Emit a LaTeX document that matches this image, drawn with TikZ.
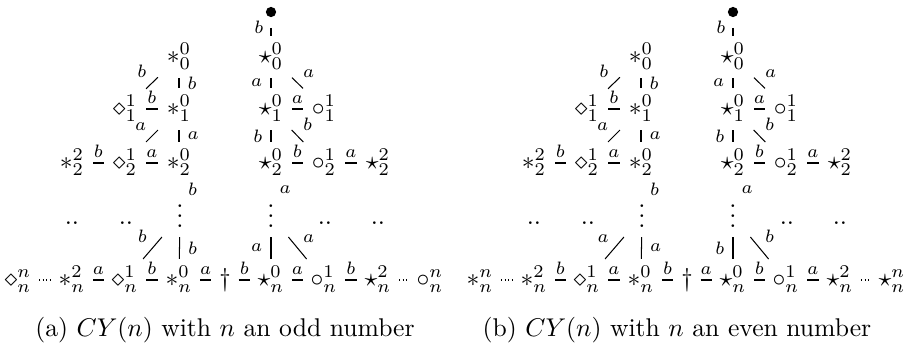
\documentclass[tikz,border=0pt]{standalone}
\usepackage{amsmath}
\usepackage{amssymb}
\usepackage{tikz}

\begin{document}
\begin{tikzpicture}[x=0.39pt,y=-0.39pt,
  vtx/.style={inner sep=0pt,minimum width=16pt,minimum height=16pt,text height=7.5pt,text depth=2.5pt},
  vdt/.style={vtx,text height=9pt,text depth=0pt},
  dg/.style={vtx,minimum width=10.2pt},
  lbl/.style={font=\scriptsize,inner sep=2pt},
  dt/.style={densely dotted}]

\useasboundingbox (0,0) rectangle (909,346);

%First figure (n odd)
\begin{scope}[name prefix=a-]
\node[vtx] (ast00) at (179,57) {$*_0^0$}; \node[vtx] (dia11) at (125,109) {$\diamond_1^1$}; \node[vtx] (ast10) at (179,109) {$*_1^0$};
\node[vtx] (ast22) at (72,163) {$*_2^2$}; \node[vtx] (dia21) at (125,163) {$\diamond_2^1$}; \node[vtx] (ast20) at (179,163) {$*_2^0$};

\node[circle,fill,inner sep=0pt,minimum size=4pt] (top) at (271,12) {};
\node[vtx] (str00) at (271,57) {$\star_0^0$}; \node[vtx] (str10) at (271,109) {$\star_1^0$}; \node[vtx] (cir11) at (324,109) {$\circ_1^1$};
\node[vtx] (str20) at (271,163) {$\star_2^0$}; \node[vtx] (cir21) at (324,163) {$\circ_2^1$}; \node[vtx] (str22) at (378,163) {$\star_2^2$};

\node[vdt] (vdl) at (180,216) {$\vdots$}; \node[vdt] (vdr) at (271,216) {$\vdots$};
\node[anchor=base] (hd1) at (72,224) {$..$}; \node[anchor=base] (hd2) at (126,224) {$..$};
\node[anchor=base] (hd3) at (325,224) {$..$}; \node[anchor=base] (hd4) at (378,224) {$..$};

\node[vtx] (n0) at (18,280) {$\diamond_n^n$}; \node[vtx] (n1) at (72,280) {$*_n^2$}; \node[vtx] (n2) at (125,280) {$\diamond_n^1$};
\node[vtx] (n3) at (179,280) {$*_n^0$}; \node[dg] (dag) at (225,280) {$\dagger$}; \node[vtx] (n5) at (271,280) {$\star_n^0$};
\node[vtx] (n6) at (324,280) {$\circ_n^1$}; \node[vtx] (n7) at (378,280) {$\star_n^2$}; \node[vtx] (n8) at (430,280) {$\circ_n^n$};

\draw (ast00) -- node[lbl,above left]{$b$} (dia11); \draw (ast00) -- node[lbl,right=1.2pt]{$b$} (ast10); \draw (dia11) -- node[lbl,above]{$b$} (ast10);
\draw (ast10) -- node[lbl,above left]{$a$} (dia21); \draw (ast10) -- node[lbl,right=1.2pt]{$a$} (ast20);
\draw (ast22) -- node[lbl,above]{$b$} (dia21); \draw (dia21) -- node[lbl,above]{$a$} (ast20);

\draw[shorten <=4pt] (top) -- node[lbl,left=0.8pt]{$b$} (str00);
\draw (str00) -- node[lbl,left=1.2pt]{$a$} (str10); \draw (str00) -- node[lbl,above right]{$a$} (cir11); \draw (str10) -- node[lbl,above]{$a$} (cir11);
\draw (str10) -- node[lbl,left=1.2pt]{$b$} (str20); \draw (str10) -- node[lbl,above right]{$b$} (cir21);
\draw (str20) -- node[lbl,above]{$b$} (cir21); \draw (cir21) -- node[lbl,above]{$a$} (str22);

\path (ast20) -- node[lbl,right=1.2pt]{$b$} (vdl); \path (str20) -- node[lbl,right=1.2pt]{$a$} (vdr);
\draw (vdl) -- node[lbl,above left]{$b$} (n2); \draw (vdl) -- node[lbl,right=1.2pt]{$b$} (n3);
\draw (vdr) -- node[lbl,left=1.2pt]{$a$} (n5); \draw (vdr) -- node[lbl,above right]{$a$} (n6);

\draw[dt] (n0) -- (n1); \draw (n1) -- node[lbl,above]{$a$} (n2); \draw (n2) -- node[lbl,above]{$b$} (n3); \draw (n3) -- node[lbl,above]{$a$} (dag);
\draw (dag) -- node[lbl,above]{$b$} (n5); \draw (n5) -- node[lbl,above]{$a$} (n6); \draw (n6) -- node[lbl,above]{$b$} (n7); \draw[dt] (n7) -- (n8);

\node (cap) at (225,330) {(a) $CY(n)$ with $n$ an odd number};
\end{scope}

%Second figure (n even)
\begin{scope}[shift={(462,0)},name prefix=b-]
\node[vtx] (ast00) at (179,57) {$*_0^0$}; \node[vtx] (dia11) at (125,109) {$\diamond_1^1$}; \node[vtx] (ast10) at (179,109) {$*_1^0$};
\node[vtx] (ast22) at (72,163) {$*_2^2$}; \node[vtx] (dia21) at (125,163) {$\diamond_2^1$}; \node[vtx] (ast20) at (179,163) {$*_2^0$};

\node[circle,fill,inner sep=0pt,minimum size=4pt] (top) at (271,12) {};
\node[vtx] (str00) at (271,57) {$\star_0^0$}; \node[vtx] (str10) at (271,109) {$\star_1^0$}; \node[vtx] (cir11) at (324,109) {$\circ_1^1$};
\node[vtx] (str20) at (271,163) {$\star_2^0$}; \node[vtx] (cir21) at (324,163) {$\circ_2^1$}; \node[vtx] (str22) at (378,163) {$\star_2^2$};

\node[vdt] (vdl) at (180,216) {$\vdots$}; \node[vdt] (vdr) at (271,216) {$\vdots$};
\node[anchor=base] (hd1) at (72,224) {$..$}; \node[anchor=base] (hd2) at (126,224) {$..$};
\node[anchor=base] (hd3) at (325,224) {$..$}; \node[anchor=base] (hd4) at (378,224) {$..$};

\node[vtx] (n0) at (18,280) {$*_n^n$}; \node[vtx] (n1) at (72,280) {$*_n^2$}; \node[vtx] (n2) at (125,280) {$\diamond_n^1$};
\node[vtx] (n3) at (179,280) {$*_n^0$}; \node[dg] (dag) at (225,280) {$\dagger$}; \node[vtx] (n5) at (271,280) {$\star_n^0$};
\node[vtx] (n6) at (324,280) {$\circ_n^1$}; \node[vtx] (n7) at (378,280) {$\star_n^2$}; \node[vtx] (n8) at (430,280) {$\star_n^n$};

\draw (ast00) -- node[lbl,above left]{$b$} (dia11); \draw (ast00) -- node[lbl,right=1.2pt]{$b$} (ast10); \draw (dia11) -- node[lbl,above]{$b$} (ast10);
\draw (ast10) -- node[lbl,above left]{$a$} (dia21); \draw (ast10) -- node[lbl,right=1.2pt]{$a$} (ast20);
\draw (ast22) -- node[lbl,above]{$b$} (dia21); \draw (dia21) -- node[lbl,above]{$a$} (ast20);

\draw[shorten <=4pt] (top) -- node[lbl,left=0.8pt]{$b$} (str00);
\draw (str00) -- node[lbl,left=1.2pt]{$a$} (str10); \draw (str00) -- node[lbl,above right]{$a$} (cir11); \draw (str10) -- node[lbl,above]{$a$} (cir11);
\draw (str10) -- node[lbl,left=1.2pt]{$b$} (str20); \draw (str10) -- node[lbl,above right]{$b$} (cir21);
\draw (str20) -- node[lbl,above]{$b$} (cir21); \draw (cir21) -- node[lbl,above]{$a$} (str22);

\path (ast20) -- node[lbl,right=1.2pt]{$b$} (vdl); \path (str20) -- node[lbl,right=1.2pt]{$a$} (vdr);
\draw (vdl) -- node[lbl,above left]{$a$} (n2); \draw (vdl) -- node[lbl,right=1.2pt]{$a$} (n3);
\draw (vdr) -- node[lbl,left=1.2pt]{$b$} (n5); \draw (vdr) -- node[lbl,above right]{$b$} (n6);

\draw[dt] (n0) -- (n1); \draw (n1) -- node[lbl,above]{$b$} (n2); \draw (n2) -- node[lbl,above]{$a$} (n3); \draw (n3) -- node[lbl,above]{$b$} (dag);
\draw (dag) -- node[lbl,above]{$a$} (n5); \draw (n5) -- node[lbl,above]{$b$} (n6); \draw (n6) -- node[lbl,above]{$a$} (n7); \draw[dt] (n7) -- (n8);

\node (cap) at (215,330) {(b) $CY(n)$ with $n$ an even number};
\end{scope}

\end{tikzpicture}
\end{document}
